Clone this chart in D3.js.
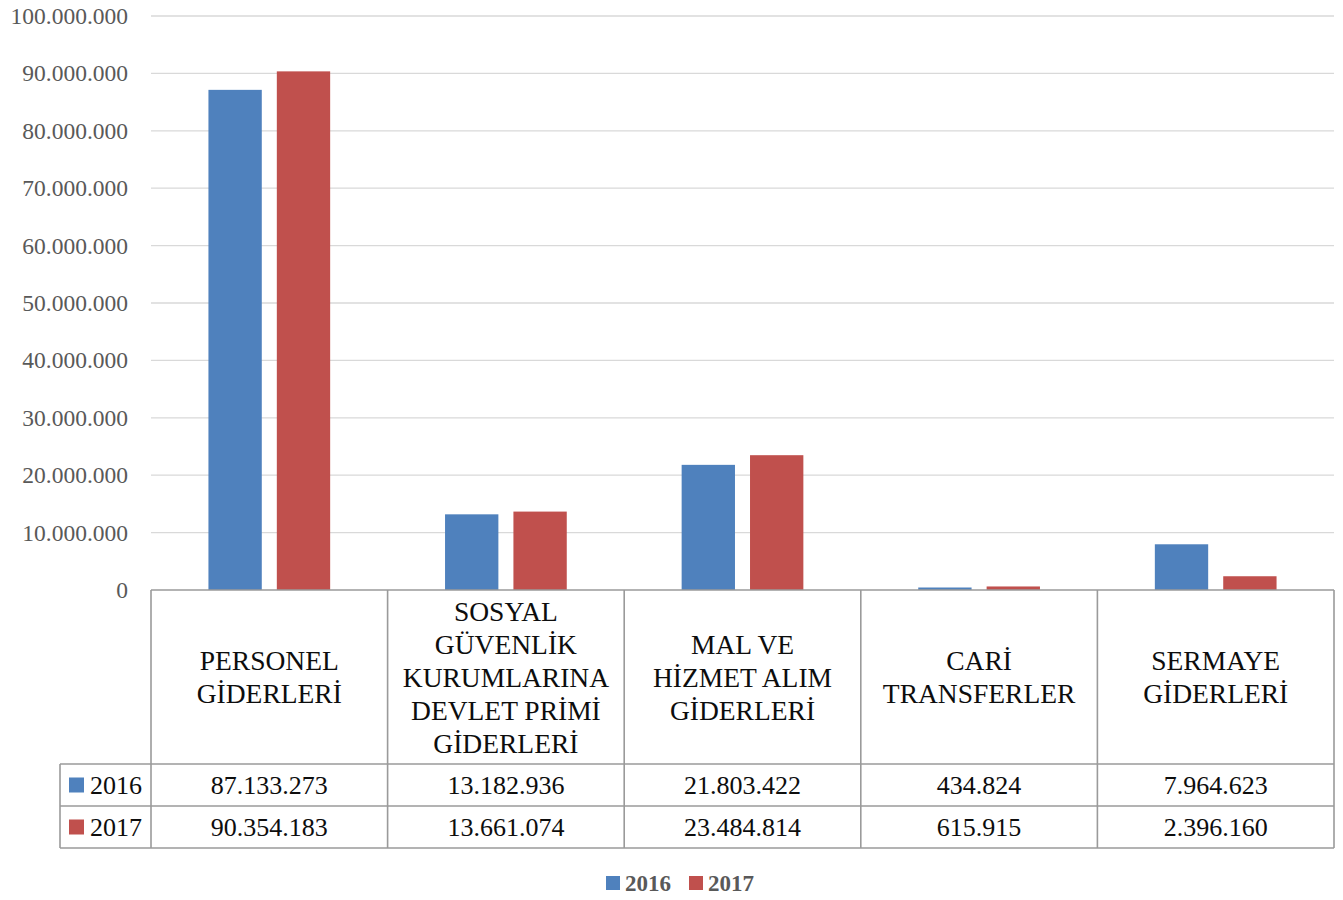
<!DOCTYPE html>
<html><head><meta charset="utf-8">
<script src="https://cdnjs.cloudflare.com/ajax/libs/d3/7.8.5/d3.min.js"></script>
<style>html,body{margin:0;padding:0;background:#fff}svg{display:block}</style>
</head><body>
<script>
const categories = ["PERSONEL\nGİDERLERİ", "SOSYAL\nGÜVENLİK\nKURUMLARINA\nDEVLET PRİMİ\nGİDERLERİ", "MAL VE\nHİZMET ALIM\nGİDERLERİ", "CARİ\nTRANSFERLER", "SERMAYE\nGİDERLERİ"];
const seriesNames = ["2016", "2017"];
const values2016 = [87133273, 13182936, 21803422, 434824, 7964623];
const values2017 = [90354183, 13661074, 23484814, 615915, 2396160];
const yTicks = [0, 10000000, 20000000, 30000000, 40000000, 50000000, 60000000, 70000000, 80000000, 90000000, 100000000];
const colors = ["#4f81bd", "#c0504d"];

(function () {
const W = 1343, H = 900;
const font = "'Liberation Serif', 'Times New Roman', serif";
const svg = d3.select("body").append("svg").attr("width", W).attr("height", H);

const pLeft = 151, pRight = 1334, pTop = 16, pBottom = 590;
const headerBottom = 764, row1Bottom = 806, row2Bottom = 848, tableLeft = 60;

const fmt = v => d3.format(",")(v).replace(/,/g, ".");
const y = d3.scaleLinear().domain([0, 100000000]).range([pBottom, pTop]);
const x0 = d3.scaleBand().domain(d3.range(categories.length)).range([pLeft, pRight]).paddingInner(0).paddingOuter(0);
const x1 = d3.scaleBand().domain(seriesNames).range([0, x0.bandwidth()]).paddingInner(0.22).paddingOuter(0.84);

// gridlines
svg.append("g").selectAll("line").data(yTicks.filter(d => d > 0)).join("line")
  .attr("x1", pLeft).attr("x2", pRight).attr("y1", d => y(d)).attr("y2", d => y(d))
  .attr("stroke", "#d9d9d9").attr("stroke-width", 1.3);

// y axis labels
const yAxis = d3.axisLeft(y).tickValues(yTicks).tickFormat(fmt).tickSize(0).tickPadding(23);
const ya = svg.append("g").attr("transform", `translate(${pLeft},0)`).call(yAxis);
ya.select(".domain").remove();
ya.selectAll("text").attr("font-family", font).attr("font-size", 23.5).attr("fill", "#595959");

// bars
const series = [values2016, values2017];
seriesNames.forEach((s, si) => {
  svg.append("g").selectAll("rect").data(series[si]).join("rect")
    .attr("x", (d, i) => x0(i) + x1(s))
    .attr("width", x1.bandwidth())
    .attr("y", d => y(d))
    .attr("height", d => y(0) - y(d))
    .attr("fill", colors[si]);
});

// table
const tcol = "#9a9a9a", tw = 1.6;
const g = svg.append("g");
const line = (a, b, c, d) => g.append("line").attr("x1", a).attr("y1", b).attr("x2", c).attr("y2", d).attr("stroke", tcol).attr("stroke-width", tw);
line(pLeft, pBottom, pRight, pBottom);
line(tableLeft, headerBottom, pRight, headerBottom);
line(tableLeft, row1Bottom, pRight, row1Bottom);
line(tableLeft, row2Bottom, pRight, row2Bottom);
line(tableLeft, headerBottom, tableLeft, row2Bottom);
const bounds = d3.range(categories.length + 1).map(i => i < categories.length ? x0(i) : pRight);
bounds.forEach(bx => line(bx, pBottom, bx, row2Bottom));

// category labels
const lh = 33;
categories.forEach((c, i) => {
  const lines = c.split("\n");
  const cx = x0(i) + x0.bandwidth() / 2;
  const cy = (pBottom + headerBottom) / 2;
  const t = svg.append("text").attr("text-anchor", "middle").attr("font-family", font)
    .attr("font-size", 27.5).attr("fill", "#0d0d0d");
  lines.forEach((l, k) => {
    t.append("tspan").attr("x", cx).attr("y", cy + (k - (lines.length - 1) / 2) * lh).attr("dy", "0.35em").text(l);
  });
});

// table values
const rowsY = [(headerBottom + row1Bottom) / 2, (row1Bottom + row2Bottom) / 2];
series.forEach((vals, si) => {
  svg.append("g").selectAll("text").data(vals).join("text")
    .attr("x", (d, i) => x0(i) + x0.bandwidth() / 2)
    .attr("y", rowsY[si]).attr("dy", "0.35em").attr("text-anchor", "middle")
    .attr("font-family", font).attr("font-size", 26).attr("fill", "#0d0d0d")
    .text(d => fmt(d));
  svg.append("rect").attr("x", 69).attr("y", rowsY[si] - 7.5).attr("width", 15).attr("height", 15).attr("fill", colors[si]);
  svg.append("text").attr("x", 90).attr("y", rowsY[si]).attr("dy", "0.35em")
    .attr("font-family", font).attr("font-size", 26).attr("fill", "#0d0d0d").text(seriesNames[si]);
});

// bottom legend
const legX = [606, 689];
seriesNames.forEach((s, si) => {
  svg.append("rect").attr("x", legX[si]).attr("y", 876).attr("width", 14).attr("height", 14).attr("fill", colors[si]);
  svg.append("text").attr("x", legX[si] + 19).attr("y", 883).attr("dy", "0.35em")
    .attr("font-family", font).attr("font-size", 23).attr("font-weight", "bold").attr("fill", "#595959").text(s);
});
})();
</script>
</body></html>
